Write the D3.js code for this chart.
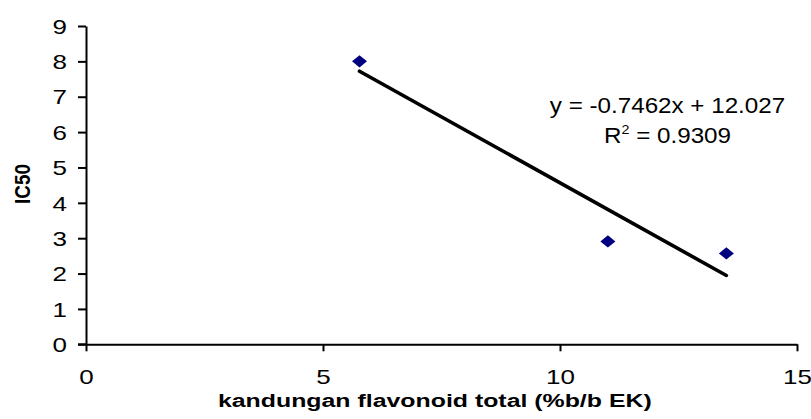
<!DOCTYPE html>
<html>
<head>
<meta charset="utf-8">
<script src="https://cdn.jsdelivr.net/npm/d3@7"></script>
<style>
  html, body { margin: 0; padding: 0; background: #fff; }
  svg { display: block; }
  text { font-family: "Liberation Sans", Arial, sans-serif; fill: #000; }
</style>
</head>
<body>
<svg id="chart" width="811" height="419"></svg>
<script>
// ---- data ----
const flavonoid = [5.77, 11.01, 13.51];   // x: kandungan flavonoid total (%b/b EK)
const ic50 = [8.0, 2.91, 2.57];           // y: IC50
const xTicks = [0, 5, 10, 15];
const yTicks = [0, 1, 2, 3, 4, 5, 6, 7, 8, 9];
const trendSlope = -0.7462;
const trendIntercept = 12.027;
const trendR2 = "0.9309";
const xTitle = "kandungan flavonoid total (%b/b EK)";
const yTitle = "IC50";

// ---- layout ----
const svg = d3.select("#chart");
const plotLeft = 86, plotRight = 797, plotTop = 26, plotBottom = 344.3;
const x = d3.scaleLinear().domain([0, 15]).range([plotLeft, plotRight]);
const y = d3.scaleLinear().domain([0, 9]).range([plotBottom, plotTop]);
const STRETCH = 1.3;

// y axis
const gy = svg.append("g").attr("transform", `translate(${plotLeft},0)`)
  .call(d3.axisLeft(y).tickValues(yTicks).tickSize(8).tickSizeOuter(0).tickFormat(d3.format("d")));
gy.select(".domain").attr("stroke", "#000").attr("stroke-width", 2);
gy.selectAll(".tick line").attr("stroke", "#000").attr("stroke-width", 2);
gy.selectAll(".tick text")
  .attr("x", 0).attr("dy", "0.36em")
  .attr("font-size", 20)
  .attr("font-family", "Liberation Sans, Arial, sans-serif")
  .attr("transform", `translate(-19,0) scale(${STRETCH},1)`);

// x axis
const gx = svg.append("g").attr("transform", `translate(0,${plotBottom})`)
  .call(d3.axisBottom(x).tickValues(xTicks).tickSize(7).tickSizeOuter(0).tickFormat(d3.format("d")));
gx.select(".domain").attr("stroke", "#000").attr("stroke-width", 2);
gx.selectAll(".tick line").attr("stroke", "#000").attr("stroke-width", 2);
gx.selectAll(".tick text")
  .attr("y", 0).attr("dy", 0)
  .attr("font-size", 20)
  .attr("font-family", "Liberation Sans, Arial, sans-serif")
  .attr("transform", `translate(0,40) scale(${STRETCH},1)`);

// extend x-axis line left to meet y tick at 0
svg.append("line")
  .attr("x1", plotLeft - 8).attr("x2", plotLeft)
  .attr("y1", y(0)).attr("y2", y(0))
  .attr("stroke", "#000").attr("stroke-width", 2);

// trendline
const xMin = d3.min(flavonoid), xMax = d3.max(flavonoid);
const trendPts = [xMin, xMax].map(v => [v, trendSlope * v + trendIntercept]);
svg.append("path")
  .datum(trendPts)
  .attr("d", d3.line().x(d => x(d[0])).y(d => y(d[1])))
  .attr("stroke", "#000").attr("stroke-width", 3.6)
  .attr("stroke-linecap", "round")
  .attr("fill", "none");

// points (diamonds)
const pts = flavonoid.map((v, i) => ({ x: v, y: ic50[i] }));
svg.append("g").selectAll("path")
  .data(pts).join("path")
  .attr("transform", d => `translate(${x(d.x)},${y(d.y)})`)
  .attr("d", "M0,-6.2L7.5,0L0,6.2L-7.5,0Z")
  .attr("fill", "#000080");

// equation label
const eqX = 667.5;
svg.append("text")
  .attr("text-anchor", "middle")
  .attr("font-size", 22)
  .attr("transform", `translate(${eqX},113.3) scale(1.1,1)`)
  .text(`y = ${trendSlope}x + ${trendIntercept}`);
const r2 = svg.append("text")
  .attr("text-anchor", "middle")
  .attr("font-size", 22)
  .attr("transform", `translate(${eqX},142.7) scale(1.1,1)`);
r2.append("tspan").text("R");
r2.append("tspan").attr("font-size", 13).attr("dy", -9).text("2");
r2.append("tspan").attr("dy", 9).text(` = ${trendR2}`);

// axis titles
svg.append("text")
  .attr("text-anchor", "middle")
  .attr("font-size", 18.7)
  .attr("font-weight", "bold")
  .attr("transform", `translate(434.8,406.7) scale(1.33,1)`)
  .text(xTitle);

svg.append("text")
  .attr("text-anchor", "middle")
  .attr("font-size", 18.9)
  .attr("font-weight", "bold")
  .attr("transform", `translate(30,184) rotate(-90) scale(1,1.16)`)
  .text(yTitle);
</script>
</body>
</html>
